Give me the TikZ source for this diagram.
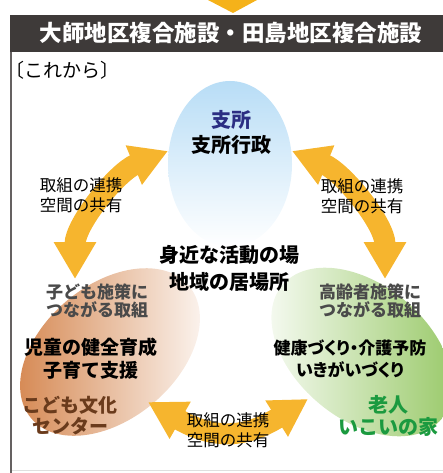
\documentclass[tikz,border=0pt]{standalone}
\usepackage{fontspec}
\usepackage{tikz}
\usetikzlibrary{shapes.geometric,arrows.meta}
\newfontfamily\jp{Noto Sans CJK JP}
\definecolor{titlebar}{HTML}{3E3A39}
\definecolor{flow}{HTML}{F6B52E}
\definecolor{drop}{HTML}{F5B21A}
\definecolor{sky}{HTML}{B8DDF6}
\definecolor{peach}{HTML}{D4844C}
\definecolor{leaf}{HTML}{95C763}
\definecolor{navy}{HTML}{2B2E83}
\definecolor{bark}{HTML}{6A3B1C}
\definecolor{pine}{HTML}{1B9A3F}
\definecolor{note}{HTML}{4A4A4A}
\newcommand{\jpsize}[2]{\fontsize{#1}{#2}\selectfont}

\begin{document}
\begin{tikzpicture}[x=1pt,y=-1pt,
  twoway/.style={draw=flow, line width=21pt,
    {Triangle[width=40pt,length=37pt]}-{Triangle[width=40pt,length=37pt]}},
  link/.style={align=center, inner sep=0pt, font=\jp\jpsize{16.5}{20}},
  head/.style 2 args={align=center, inner sep=0pt, font=\jp\bfseries\jpsize{#1}{#2}}]
  \useasboundingbox (0,0) rectangle (443,473);

  % frame and title
  \fill[drop] (208,0) -- (257,0) -- (233,13) -- cycle;
  \fill[titlebar] (10,15) rectangle (443,52);
  \draw[gray!25] (11,470) -- (443,470);
  \draw[titlebar!80, line width=2pt] (11,52) -- (11,473);
  \node[font=\jp\bfseries\jpsize{22.5}{24}, text=white] (title) at (231,33)
    {大師地区複合施設・田島地区複合施設};
  \node[anchor=west, inner sep=0pt, font=\jp\jpsize{19}{20}] (now) at (5,70) {〔これから〕};

  % three places
  \node[ellipse, minimum width=124pt, minimum height=166pt, inner sep=0pt,
    top color=sky, middle color=sky!70, bottom color=white] (shisho) at (230,164) {};
  \node[ellipse, minimum width=206pt, minimum height=134pt, inner sep=0pt, rotate=40,
    left color=peach, middle color=peach!70, right color=peach!5] (kodomo) at (110,352) {};
  \node[ellipse, minimum width=208pt, minimum height=134pt, inner sep=0pt, rotate=-40,
    left color=leaf!5, middle color=leaf!55, right color=leaf] (rojin) at (362,352) {};

  % links
  \coordinate (lt) at (168,151);
  \coordinate (lb) at (75,279);
  \coordinate (rt) at (292,151);
  \coordinate (rb) at (385,279);
  \coordinate (bl) at (148,402);
  \coordinate (br) at (308,399);
  \draw[twoway] (lt) .. controls (117,172) and (75,224) .. (lb);
  \draw[twoway] (rt) .. controls (343,172) and (385,224) .. (rb);
  \draw[twoway] (bl) .. controls (213,439) and (244,439) .. (br);
  \node[link] (linkl) at (81,195) {取組の連携\\空間の共有};
  \node[link] (linkr) at (362,196) {取組の連携\\空間の共有};
  \node[link] (linkb) at (228,430) {取組の連携\\空間の共有};

  % texts
  \node[head={20}{25}, text=navy] (shishoname) at (231,120) {支所};
  \node[head={20}{25}] (shishowork) at (231,145) {支所行政};
  \node[head={20}{27}] (center) at (229,268) {身近な活動の場\\地域の居場所};
  \node[head={17}{18}, text=note] (kodomonote) at (97,301) {子ども施策に\\つながる取組};
  \node[head={17}{18}, text=note] (rojinnote) at (370,301) {高齢者施策に\\つながる取組};
  \node[head={19}{23}] (kodomowork) at (91,359) {児童の健全育成\\子育て支援};
  \node[head={17}{22}, font=\jp\bfseries\jpsize{17}{22}\addfontfeature{RawFeature=+palt}] (rojinwork) at (350,359) {健康づくり・介護予防\\いきがいづくり};
  \node[head={19}{21}, text=bark] (kodomoname) at (70,416) {こども文化\\センター};
  \node[head={20}{22}, text=pine] (rojinname) at (388,416) {老人\\いこいの家};
\end{tikzpicture}
\end{document}
